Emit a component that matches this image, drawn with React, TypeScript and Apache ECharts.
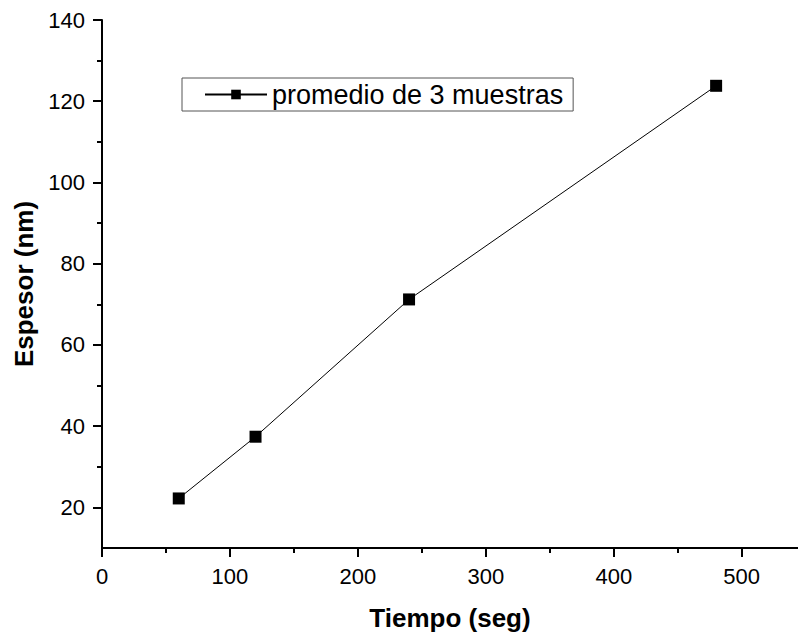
import React, { useEffect, useRef } from "react";
import * as echarts from "echarts";

const tiempo = [60, 120, 240, 480];
const espesor = [22.2, 37.4, 71.2, 123.8];
const xMajorTicks = [0, 100, 200, 300, 400, 500];
const xMinorTicks = [50, 150, 250, 350, 450];
const yMajorTicks = [20, 40, 60, 80, 100, 120, 140];
const yMinorTicks = [30, 50, 70, 90, 110, 130];
const seriesName = "promedio de 3 muestras";
const xTitle = "Tiempo (seg)";
const yTitle = "Espesor (nm)";

const FONT = "Liberation Sans, Arial, Helvetica, sans-serif";

export default function App() {
  const ref = useRef<HTMLDivElement>(null);
  useEffect(() => {
    if (!ref.current) return;
    const chart = echarts.init(ref.current, null, { renderer: "svg" });
    const axisLine = { show: true, lineStyle: { color: "#000", width: 2 } };
    chart.setOption({
      animation: false,
      backgroundColor: "#fff",
      textStyle: { fontFamily: FONT },
      grid: { left: 102, right: 0, top: 20, bottom: 91, containLabel: false },
      legend: {
        left: 182,
        top: 78,
        orient: "horizontal",
        padding: [3, 10, 3, 22],
        borderColor: "#555",
        borderWidth: 1,
        itemWidth: 62,
        itemHeight: 12,
        textStyle: { fontSize: 27, color: "#000", fontFamily: FONT },
        data: [seriesName],
      },
      xAxis: [
        {
          type: "value",
          position: "bottom",
          min: 0,
          max: 544,
          name: xTitle,
          nameLocation: "middle",
          nameGap: 57,
          nameTextStyle: { fontSize: 26, fontWeight: "bold", color: "#000", fontFamily: FONT },
          axisLine,
          axisTick: { show: true, inside: false, length: 9, customValues: xMajorTicks, lineStyle: { color: "#000", width: 2 } },
          axisLabel: { show: true, customValues: xMajorTicks, fontSize: 22, color: "#000", margin: 17, fontFamily: FONT },
          splitLine: { show: false },
        },
        {
          type: "value",
          position: "bottom",
          min: 0,
          max: 544,
          axisLine: { show: false },
          axisTick: { show: true, inside: false, length: 5, customValues: xMinorTicks, lineStyle: { color: "#000", width: 2 } },
          axisLabel: { show: false },
          splitLine: { show: false },
        },
      ],
      yAxis: [
        {
          type: "value",
          position: "left",
          min: 10,
          max: 140,
          name: yTitle,
          nameLocation: "middle",
          nameGap: 63,
          nameRotate: 90,
          nameTextStyle: { fontSize: 26, fontWeight: "bold", color: "#000", fontFamily: FONT },
          axisLine,
          axisTick: { show: true, inside: false, length: 9, customValues: yMajorTicks, lineStyle: { color: "#000", width: 2 } },
          axisLabel: { show: true, customValues: yMajorTicks, fontSize: 22, color: "#000", margin: 17, fontFamily: FONT },
          splitLine: { show: false },
        },
        {
          type: "value",
          position: "left",
          min: 10,
          max: 140,
          axisLine: { show: false },
          axisTick: { show: true, inside: false, length: 5, customValues: yMinorTicks, lineStyle: { color: "#000", width: 2 } },
          axisLabel: { show: false },
          splitLine: { show: false },
        },
      ],
      series: [
        {
          name: seriesName,
          type: "line",
          xAxisIndex: 0,
          yAxisIndex: 0,
          data: tiempo.map((t, i) => [t, espesor[i]]),
          symbol: "rect",
          symbolSize: 12,
          itemStyle: { color: "#000" },
          lineStyle: { color: "#000", width: 1 },
        },
      ],
    });
    return () => chart.dispose();
  }, []);
  return (
    <div
      ref={ref}
      style={{ position: "absolute", left: 0, top: 0, width: 798, height: 639 }}
    />
  );
}
